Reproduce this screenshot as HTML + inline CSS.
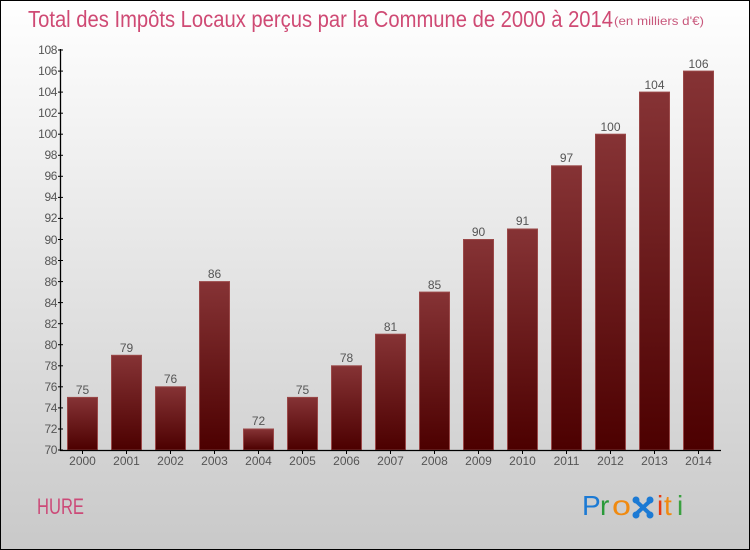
<!DOCTYPE html>
<html><head><meta charset="utf-8"><style>
html,body{margin:0;padding:0;}
body{width:750px;height:550px;overflow:hidden;}
svg{display:block;}
text{font-family:"Liberation Sans",sans-serif;}
</style></head><body>
<svg width="750" height="550" viewBox="0 0 750 550" xmlns="http://www.w3.org/2000/svg">
<defs>
<linearGradient id="bg" x1="0" y1="0" x2="0" y2="1">
<stop offset="0" stop-color="#ffffff"/>
<stop offset="1" stop-color="#c9c9c9"/>
</linearGradient>
<linearGradient id="bar" x1="0" y1="0" x2="0" y2="1">
<stop offset="0" stop-color="#863335"/>
<stop offset="1" stop-color="#4c0000"/>
</linearGradient>
</defs>
<rect x="0.5" y="0.5" width="749" height="549" fill="url(#bg)" stroke="#000" stroke-width="1"/>

<text x="28" y="27" font-size="23" fill="#cf4a74" textLength="585" lengthAdjust="spacingAndGlyphs">Total des Impôts Locaux perçus par la Commune de 2000 à 2014</text>
<text x="614" y="25" font-size="12" fill="#c8587c" textLength="90" lengthAdjust="spacingAndGlyphs">(en milliers d'€)</text>

<g fill="url(#bar)" stroke="#9a4848" stroke-width="1">
<rect x="67.5" y="397.4" width="30" height="52.6"/>
<rect x="111.5" y="355.3" width="30" height="94.7"/>
<rect x="155.5" y="386.8" width="30" height="63.2"/>
<rect x="199.5" y="281.6" width="30" height="168.4"/>
<rect x="243.5" y="429" width="30" height="21"/>
<rect x="287.5" y="397.4" width="30" height="52.6"/>
<rect x="331.5" y="365.8" width="30" height="84.2"/>
<rect x="375.5" y="334.2" width="30" height="115.8"/>
<rect x="419.5" y="292.1" width="30" height="157.9"/>
<rect x="463.5" y="239.5" width="30" height="210.5"/>
<rect x="507.5" y="229" width="30" height="221"/>
<rect x="551.5" y="165.8" width="30" height="284.2"/>
<rect x="595.5" y="134.2" width="30" height="315.8"/>
<rect x="639.5" y="92.1" width="30" height="357.9"/>
<rect x="683.5" y="71.1" width="30" height="378.9"/>
</g>

<g font-size="12" fill="#555" text-anchor="middle">
<text x="82.5" y="394">75</text>
<text x="126.5" y="352">79</text>
<text x="170.5" y="383">76</text>
<text x="214.5" y="278">86</text>
<text x="258.5" y="425">72</text>
<text x="302.5" y="394">75</text>
<text x="346.5" y="362">78</text>
<text x="390.5" y="331">81</text>
<text x="434.5" y="289">85</text>
<text x="478.5" y="236">90</text>
<text x="522.5" y="225">91</text>
<text x="566.5" y="162">97</text>
<text x="610.5" y="131">100</text>
<text x="654.5" y="89">104</text>
<text x="698.5" y="68">106</text>
</g>

<g stroke="#000" stroke-width="1.3">
<line x1="60.5" y1="49" x2="60.5" y2="451"/>
<line x1="60" y1="450.5" x2="721" y2="450.5"/>
</g>
<g stroke="#000" stroke-width="1">
<line x1="58" y1="450" x2="63" y2="450"/>
<line x1="58" y1="429" x2="63" y2="429"/>
<line x1="58" y1="407.9" x2="63" y2="407.9"/>
<line x1="58" y1="386.8" x2="63" y2="386.8"/>
<line x1="58" y1="365.8" x2="63" y2="365.8"/>
<line x1="58" y1="344.7" x2="63" y2="344.7"/>
<line x1="58" y1="323.7" x2="63" y2="323.7"/>
<line x1="58" y1="302.6" x2="63" y2="302.6"/>
<line x1="58" y1="281.6" x2="63" y2="281.6"/>
<line x1="58" y1="260.5" x2="63" y2="260.5"/>
<line x1="58" y1="239.5" x2="63" y2="239.5"/>
<line x1="58" y1="218.4" x2="63" y2="218.4"/>
<line x1="58" y1="197.4" x2="63" y2="197.4"/>
<line x1="58" y1="176.3" x2="63" y2="176.3"/>
<line x1="58" y1="155.3" x2="63" y2="155.3"/>
<line x1="58" y1="134.2" x2="63" y2="134.2"/>
<line x1="58" y1="113.2" x2="63" y2="113.2"/>
<line x1="58" y1="92.1" x2="63" y2="92.1"/>
<line x1="58" y1="71.1" x2="63" y2="71.1"/>
<line x1="58" y1="50" x2="63" y2="50"/>
<line x1="82.5" y1="450" x2="82.5" y2="454"/>
<line x1="126.5" y1="450" x2="126.5" y2="454"/>
<line x1="170.5" y1="450" x2="170.5" y2="454"/>
<line x1="214.5" y1="450" x2="214.5" y2="454"/>
<line x1="258.5" y1="450" x2="258.5" y2="454"/>
<line x1="302.5" y1="450" x2="302.5" y2="454"/>
<line x1="346.5" y1="450" x2="346.5" y2="454"/>
<line x1="390.5" y1="450" x2="390.5" y2="454"/>
<line x1="434.5" y1="450" x2="434.5" y2="454"/>
<line x1="478.5" y1="450" x2="478.5" y2="454"/>
<line x1="522.5" y1="450" x2="522.5" y2="454"/>
<line x1="566.5" y1="450" x2="566.5" y2="454"/>
<line x1="610.5" y1="450" x2="610.5" y2="454"/>
<line x1="654.5" y1="450" x2="654.5" y2="454"/>
<line x1="698.5" y1="450" x2="698.5" y2="454"/>
</g>

<g font-size="12" fill="#555" text-anchor="end" letter-spacing="-0.4">
<text x="57" y="454">70</text>
<text x="57" y="433">72</text>
<text x="57" y="412">74</text>
<text x="57" y="391">76</text>
<text x="57" y="370">78</text>
<text x="57" y="349">80</text>
<text x="57" y="328">82</text>
<text x="57" y="307">84</text>
<text x="57" y="286">86</text>
<text x="57" y="265">88</text>
<text x="57" y="244">90</text>
<text x="57" y="222">92</text>
<text x="57" y="201">94</text>
<text x="57" y="180">96</text>
<text x="57" y="159">98</text>
<text x="57" y="138">100</text>
<text x="57" y="117">102</text>
<text x="57" y="96">104</text>
<text x="57" y="75">106</text>
<text x="57" y="54">108</text>
</g>

<g font-size="12" fill="#555" text-anchor="middle">
<text x="82.5" y="465">2000</text>
<text x="126.5" y="465">2001</text>
<text x="170.5" y="465">2002</text>
<text x="214.5" y="465">2003</text>
<text x="258.5" y="465">2004</text>
<text x="302.5" y="465">2005</text>
<text x="346.5" y="465">2006</text>
<text x="390.5" y="465">2007</text>
<text x="434.5" y="465">2008</text>
<text x="478.5" y="465">2009</text>
<text x="522.5" y="465">2010</text>
<text x="566.5" y="465">2011</text>
<text x="610.5" y="465">2012</text>
<text x="654.5" y="465">2013</text>
<text x="698.5" y="465">2014</text>
</g>

<text x="37" y="514" font-size="22" fill="#cc4a78" textLength="47" lengthAdjust="spacingAndGlyphs">HURE</text>

<g font-size="28">
<text x="582" y="515" fill="#1c7ad4">P</text>
<text x="600" y="515" fill="#2a9a3a">r</text>
<text x="612" y="515" fill="#f08a10" textLength="19" lengthAdjust="spacingAndGlyphs">o</text>
<text x="657" y="515" fill="#e83a10">i</text>
<text x="664" y="515" fill="#f08a10">t</text>
<text x="677" y="515" fill="#3aa040">i</text>
</g>
<g fill="#1c7ad4" stroke="#1c7ad4">
<line x1="636" y1="501" x2="650" y2="514" stroke-width="4"/>
<line x1="650" y1="501" x2="636" y2="514" stroke-width="4"/>
<circle cx="636" cy="500" r="3.5" stroke="none"/>
<circle cx="650" cy="500" r="3.5" stroke="none"/>
<circle cx="636" cy="515" r="3.5" stroke="none"/>
<circle cx="650" cy="515" r="3.5" stroke="none"/>
</g>
</svg>
</body></html>
